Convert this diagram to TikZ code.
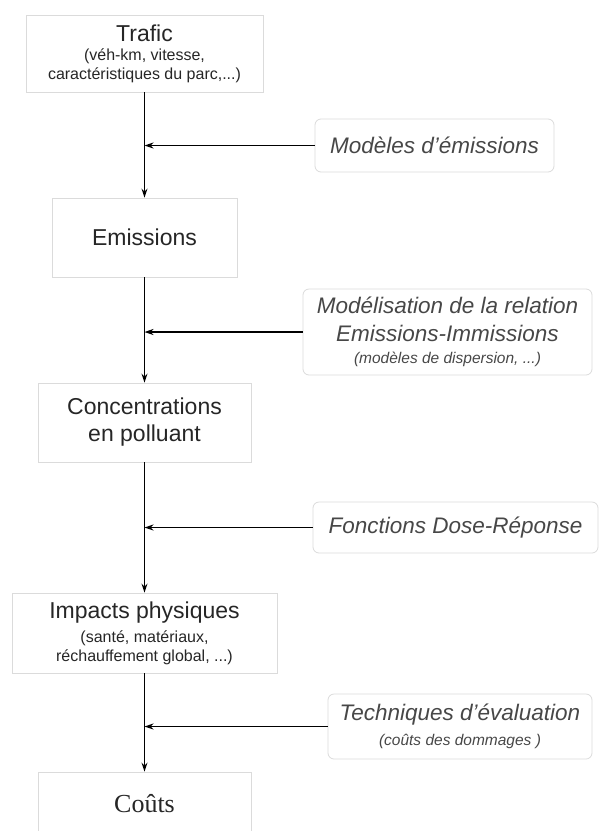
\documentclass[tikz,border=0pt]{standalone}
\usepackage{fontspec}
\setmainfont{Liberation Sans}
\newfontfamily\costfont{Liberation Serif}
\usetikzlibrary{arrows.meta}

\newcommand{\titlesize}{\fontsize{23}{27}\selectfont}
\newcommand{\subsize}{\fontsize{16}{19}\selectfont}
\newcommand{\notesize}{\fontsize{15.5}{19}\selectfont}

\begin{document}
\begin{tikzpicture}[
            x=1pt, y=-1pt,
            box/.style = {draw=black!14, line width=0.8pt, align=center, text=black!85, inner sep=0pt},
            side/.style = {box, rounded corners=6pt, text=black!72, font=\itshape\fontsize{22.5}{28}\selectfont},
            >=stealth,  % arrow tips
            line/.style = {draw, line width=1.4pt, -{Stealth[length=9pt, width=6pt]}},
            ]
            \useasboundingbox (0,0) rectangle (599,831);

            % main chain
            \node[box, font=\subsize, minimum width=237, minimum height=77] (Traf) at (144.5,53.5)
                {{\titlesize Trafic}\\ (véh-km, vitesse,\\ caractéristiques du parc,...)};
            \node[box, font=\titlesize, minimum width=185, minimum height=79] (Emis) at (144.5,237.5) {Emissions};
            \node[box, font=\titlesize, minimum width=213, minimum height=79] (Conc) at (144.5,422.5)
                {Concentrations\\ en polluant};
            \node[box, font=\subsize, minimum width=265, minimum height=80] (Imp) at (144.5,633)
                {{\titlesize Impacts physiques}\\[5pt] (santé, matériaux,\\ réchauffement global, ...)};
            \node[box, font=\costfont\fontsize{26}{30}\selectfont, minimum width=213, minimum height=64] (Cout) at (144.5,804) {Coûts};

            % side boxes
            \node[side, minimum width=239, minimum height=53] (M1) at (434.5,145.5) {Modèles d'émissions};
            \node[side, minimum width=289, minimum height=86] (M2) at (447.5,332)
                {Modélisation de la relation\\ Emissions-Immissions\\[-6pt] {\notesize (modèles de dispersion, ...)}};
            \node[side, minimum width=285, minimum height=51] (M3) at (455.5,527.5) {Fonctions Dose-Réponse};
            \node[side, minimum width=264, minimum height=65] (M4) at (460,726.5)
                {Techniques d'évaluation\\[-3pt] {\notesize (coûts des dommages )}};

            \draw[line] (Traf) -- (Emis);
            \draw[line] (Emis) -- (Conc);
            \draw[line] (Conc) -- (Imp);
            \draw[line] (Imp) -- (Cout);

            \draw[line] (M1) -- (M1 -| Traf);
            \draw[line] (M2) -- (M2 -| Traf);
            \draw[line] (M3) -- (M3 -| Traf);
            \draw[line] (M4) -- (M4 -| Traf);
        \end{tikzpicture}
\end{document}
